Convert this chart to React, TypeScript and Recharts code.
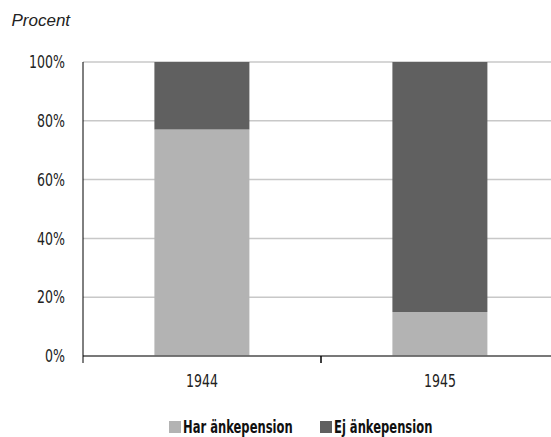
import React from "react";
import { BarChart, Bar, XAxis, YAxis, CartesianGrid } from "recharts";

const categories = ["1944", "1945"];
const harAnkepension = [77, 15];
const ejAnkepension = [23, 85];
const yTicks = [0, 20, 40, 60, 80, 100];
const seriesNames = ["Har änkepension", "Ej änkepension"];
const yAxisTitle = "Procent";

const data = categories.map((c, i) => ({
  year: c,
  har: harAnkepension[i],
  ej: ejAnkepension[i],
}));

const LIGHT = "#b3b3b3";
const DARK = "#606060";
const FONT = "'DejaVu Sans', sans-serif";
const SQ = 0.74;

const XTick = (props: any) => {
  const { x, y, payload } = props;
  const off = payload && payload.offset ? payload.offset : 119;
  return (
    <g>
      <line x1={x - off} y1={y} x2={x - off} y2={y + 7} stroke="#000" strokeWidth={1} />
      <line x1={x + off} y1={y} x2={x + off} y2={y + 7} stroke="#000" strokeWidth={1} />
      <text
        transform={`translate(${x},${y + 31}) scale(${SQ},1)`}
        textAnchor="middle"
        fontFamily={FONT}
        fontSize={17}
        fill="#222"
      >
        {payload.value}
      </text>
    </g>
  );
};

const YTick = (props: any) => {
  const { x, y, payload } = props;
  return (
    <text
      transform={`translate(${x},${y}) scale(${SQ},1)`}
      dy="0.36em"
      textAnchor="end"
      fontFamily={FONT}
      fontSize={17}
      fill="#222"
    >
      {`${payload.value}%`}
    </text>
  );
};

const legendItems = [
  { sq: 169, tx: 183, color: LIGHT },
  { sq: 320, tx: 334, color: DARK },
];

export default function App() {
  return (
    <div style={{ position: "absolute", left: 0, top: 0, width: 551, height: 437, overflow: "hidden", background: "#fff" }}>
      <BarChart
        width={600}
        height={437}
        data={data}
        margin={{ top: 62, right: 41, bottom: 0, left: 0 }}
        barCategoryGap="30%"
      >
        <CartesianGrid vertical={false} stroke="#c8c8c8" strokeWidth={1.5} />
        <XAxis
          dataKey="year"
          axisLine={{ stroke: "#595959", strokeWidth: 1.5 }}
          tickLine={false}
          tickSize={0}
          tickMargin={0}
          tick={<XTick />}
          interval={0}
          height={81}
        />
        <YAxis
          domain={[0, 100]}
          ticks={yTicks}
          axisLine={{ stroke: "#000", strokeWidth: 1 }}
          tickLine={false}
          tickSize={0}
          tickMargin={18}
          width={83}
          tick={<YTick />}
        />
        <Bar dataKey="har" stackId="a" fill={LIGHT} isAnimationActive={false} />
        <Bar dataKey="ej" stackId="a" fill={DARK} isAnimationActive={false} />
      </BarChart>
      <svg
        width={551}
        height={437}
        style={{ position: "absolute", left: 0, top: 0, pointerEvents: "none" }}
      >
        <text
          x={11.5}
          y={26}
          fontFamily="'Liberation Sans', Arial, sans-serif"
          fontStyle="italic"
          fontSize={17}
          fill="#222"
        >
          {yAxisTitle}
        </text>
        {seriesNames.map((n, i) => (
          <g key={n}>
            <rect x={legendItems[i].sq} y={421} width={12} height={12} fill={legendItems[i].color} />
            <text
              transform={`translate(${legendItems[i].tx},433) scale(0.68,1)`}
              fontFamily={FONT}
              fontWeight="bold"
              fontSize={17}
              fill="#111"
            >
              {n}
            </text>
          </g>
        ))}
      </svg>
    </div>
  );
}
